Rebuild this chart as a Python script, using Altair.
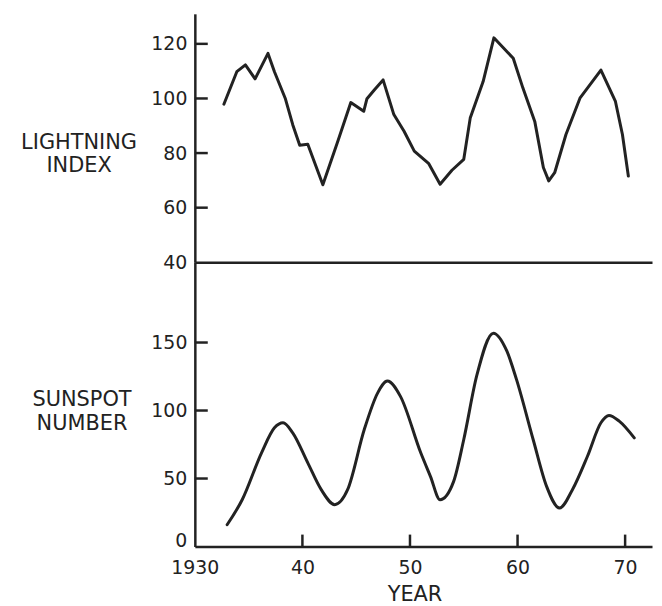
import altair as alt
import pandas as pd

# Lightning index (top panel)
light_years = [1932.7, 1933.9, 1934.7, 1935.6, 1936.8, 1937.4, 1938.4, 1939.1, 1939.75, 1940.5,
               1941.9, 1943.3, 1944.5, 1945.7, 1946.0, 1946.7, 1947.5, 1948.5, 1949.45, 1950.4,
               1951.75, 1952.8, 1953.9, 1955.0, 1955.6, 1956.8, 1957.8, 1959.6, 1960.5, 1961.6,
               1962.4, 1962.9, 1963.45, 1964.5, 1965.8, 1967.75, 1969.1, 1969.75, 1970.3]
light_values = [97.9, 109.8, 112.3, 107.2, 116.5, 109.8, 100.1, 90.4, 82.9, 83.2,
                68.4, 84.4, 98.5, 95.3, 99.9, 103.2, 106.8, 94.1, 88.0, 80.7,
                76.1, 68.6, 73.7, 77.7, 92.8, 106.2, 122.2, 114.7, 103.8, 91.6,
                74.7, 69.8, 72.8, 86.8, 100.1, 110.4, 98.9, 86.8, 71.6]

# Sunspot number (bottom panel)
sun_years = [1933.0, 1934.4, 1936.2, 1937.4, 1938.2, 1939.1, 1940.5, 1941.75, 1943.0, 1944.2,
             1945.75, 1947.0, 1947.9, 1949.1, 1951.0, 1951.9, 1952.8, 1954.06, 1955.0, 1956.2,
             1957.75, 1959.0, 1959.9, 1961.45, 1962.7, 1963.9, 1965.1, 1966.5, 1967.75, 1968.5,
             1969.45, 1970.85]
sun_values = [16, 34.4, 68.9, 87.3, 91, 83.6, 61.5, 41.8, 30.8, 41.8,
              86, 113, 121.7, 110.6, 68.9, 51.6, 34.4, 47.9, 78.7, 125.4,
              156.9, 143.8, 122.9, 78.7, 44.2, 28.3, 41.8, 66.4, 91, 96.4,
              92.2, 79.9]

light_label_values = [40, 60, 80, 100, 120]
light_tick_values = [60, 80, 100, 120]
sun_label_values = [0, 50, 100, 150]
sun_tick_values = [50, 100, 150]
year_label_values = [1930, 1940, 1950, 1960, 1970]
year_tick_values = [1940, 1950, 1960, 1970]

W = 460
TOP_H = 250
BOT_H = 286
INK = "#222222"
FONT = "DejaVu Sans"

df_light = pd.DataFrame({"year": light_years, "value": light_values})
df_sun = pd.DataFrame({"year": sun_years, "value": sun_values})
df_lt = pd.DataFrame({"value": light_tick_values})
df_st = pd.DataFrame({"value": sun_tick_values})
df_yt = pd.DataFrame({"year": year_tick_values})

xscale = alt.Scale(domain=[1930, 1972.5], nice=False, zero=False)
ytop = alt.Scale(domain=[40, 131], nice=False, zero=False)
ybot = alt.Scale(domain=[0, 209], nice=False, zero=False)

top_line = alt.Chart(df_light).mark_line(
    color=INK, strokeWidth=3, strokeJoin="round", strokeCap="round"
).encode(
    x=alt.X("year:Q", scale=xscale,
            axis=alt.Axis(labels=False, ticks=False, tickSize=0, domain=True,
                          title=None, grid=False)),
    y=alt.Y("value:Q", scale=ytop,
            axis=alt.Axis(values=light_label_values, ticks=False, tickSize=0,
                          labelPadding=8, grid=False,
                          title=["LIGHTNING", "INDEX"], titleAngle=0,
                          titleAlign="center", titleBaseline="middle",
                          titleX=-117, titleY=130, titleLineHeight=23)),
)
top_ticks = alt.Chart(df_lt).mark_rule(color=INK, strokeWidth=2.5).encode(
    y=alt.Y("value:Q", scale=ytop),
    x=alt.value(0), x2=alt.value(13),
)
top = alt.layer(top_line, top_ticks).properties(width=W, height=TOP_H)

bot_line = alt.Chart(df_sun).mark_line(
    color=INK, strokeWidth=3, interpolate="monotone", strokeCap="round"
).encode(
    x=alt.X("year:Q", scale=xscale,
            axis=alt.Axis(values=year_label_values, ticks=False, tickSize=0,
                          labelPadding=12, grid=False, labelFlush=False,
                          labelOverlap=False,
                          labelExpr="datum.value == 1930 ? '1930' : format(datum.value % 100, 'd')",
                          title="YEAR", titleX=221, titleY=48,
                          titleAlign="center", titleBaseline="middle")),
    y=alt.Y("value:Q", scale=ybot,
            axis=alt.Axis(values=sun_label_values, ticks=False, tickSize=0,
                          labelPadding=8, grid=False,
                          labelOffset={"condition": {"test": "datum.value === 0", "value": -6}, "value": 0},
                          title=["SUNSPOT", "NUMBER"], titleAngle=0,
                          titleAlign="center", titleBaseline="middle",
                          titleX=-114, titleY=138, titleLineHeight=24)),
)
bot_yticks = alt.Chart(df_st).mark_rule(color=INK, strokeWidth=2.5).encode(
    y=alt.Y("value:Q", scale=ybot),
    x=alt.value(0), x2=alt.value(13),
)
bot_xticks = alt.Chart(df_yt).mark_rule(color=INK, strokeWidth=2.5).encode(
    x=alt.X("year:Q", scale=xscale),
    y=alt.value(BOT_H), y2=alt.value(BOT_H - 12),
)
bottom = alt.layer(bot_line, bot_yticks, bot_xticks).properties(width=W, height=BOT_H)

chart = alt.vconcat(top, bottom, spacing=0, bounds="flush").properties(
    padding={"left": 12, "top": 4, "right": 2, "bottom": 2},
    background="white",
).configure_view(stroke=None).configure_axis(
    labelFont=FONT, labelFontSize=19, labelColor=INK,
    titleFont=FONT, titleFontSize=21, titleFontWeight="normal", titleColor=INK,
    domainColor=INK, domainWidth=2.5,
)

chart.save("out.html", embed_options={"renderer": "svg", "actions": False})
